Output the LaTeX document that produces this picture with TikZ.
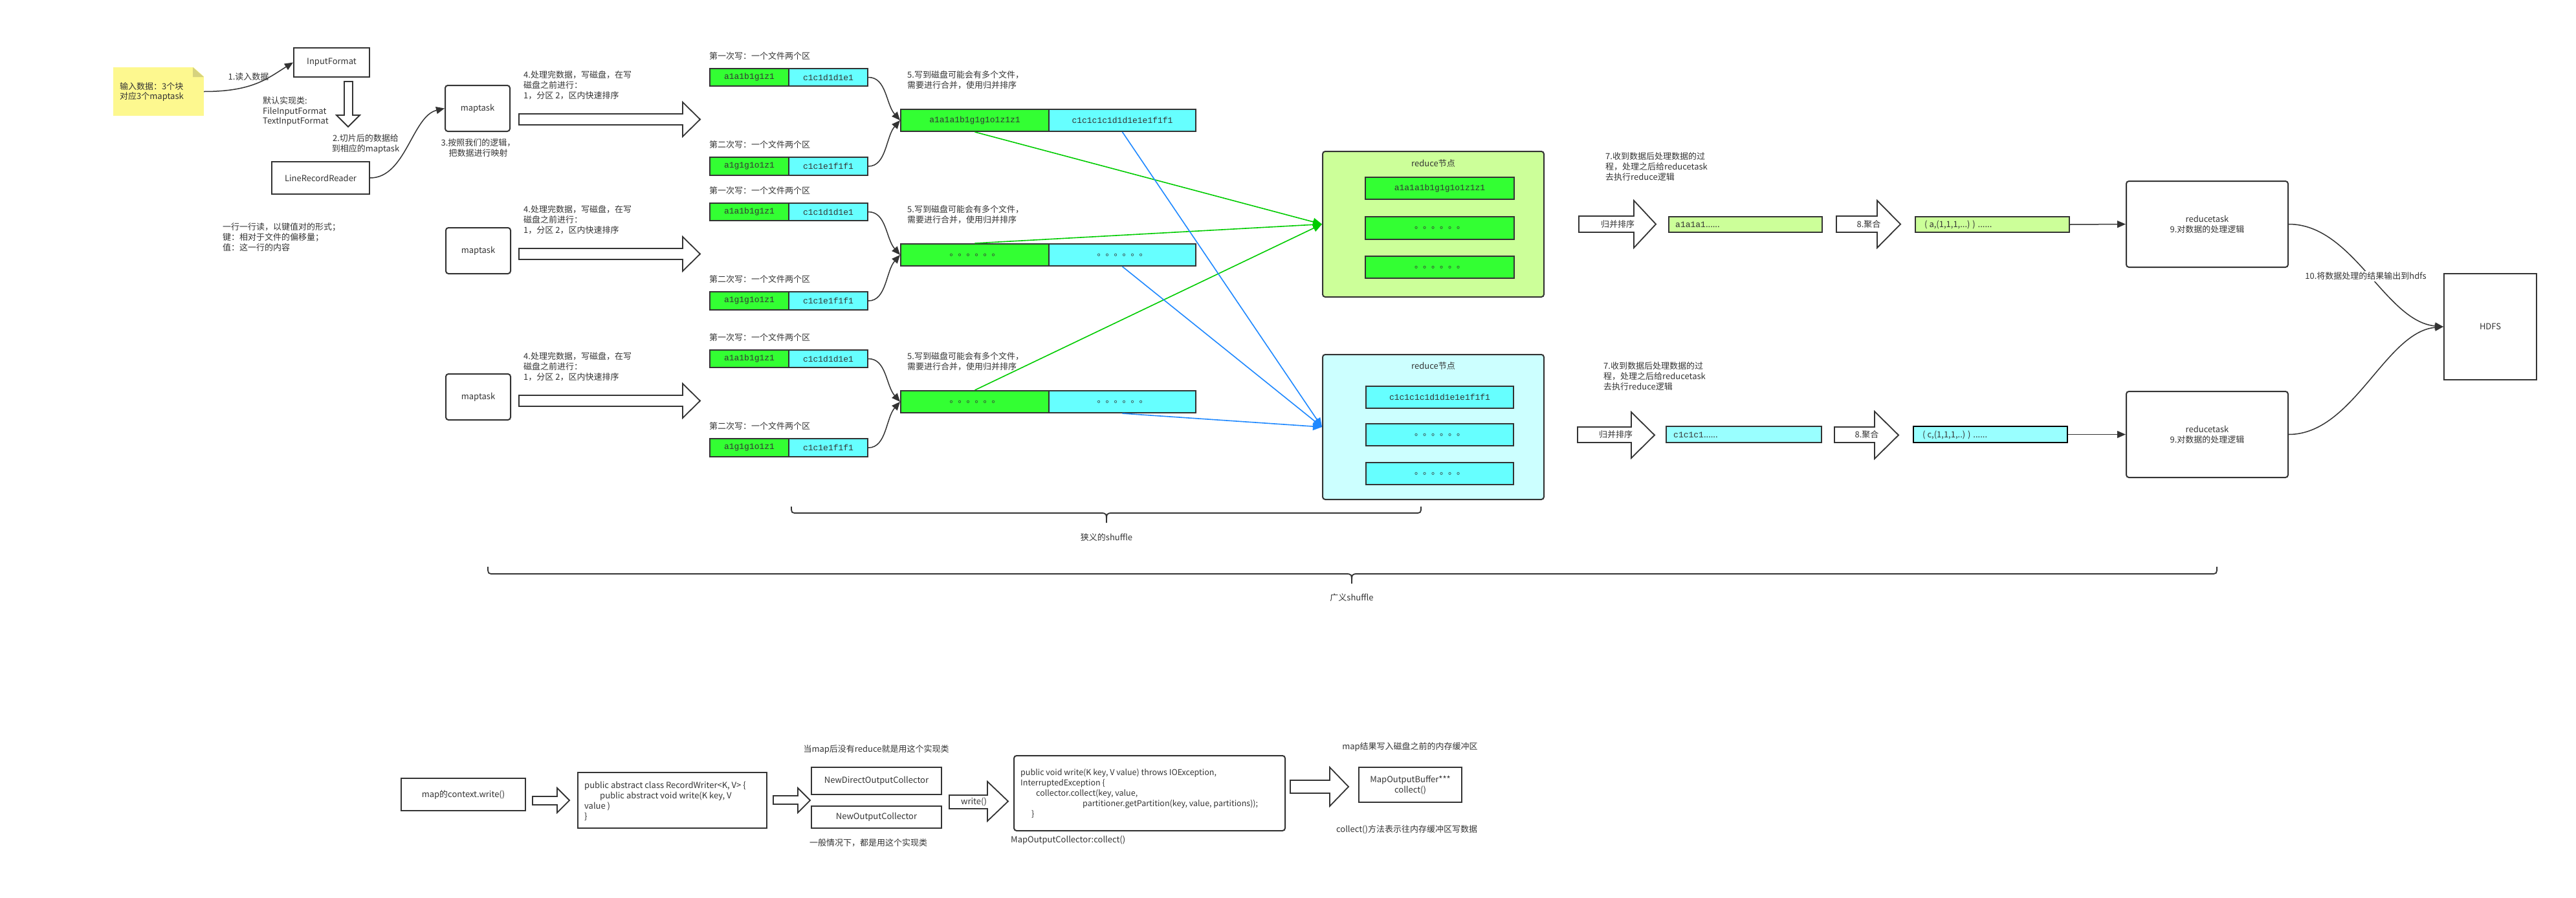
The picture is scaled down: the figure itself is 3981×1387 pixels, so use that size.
\documentclass[tikz,border=0pt]{standalone}
\usepackage{fontspec}
\newfontfamily\cjk{Noto Sans CJK SC}
\newfontfamily\monof{Liberation Mono}
\usetikzlibrary{arrows.meta}
\definecolor{ln}{HTML}{333333}
\definecolor{grn}{HTML}{33FF33}
\definecolor{cyn}{HTML}{66FFFF}
\definecolor{cyn2}{HTML}{99FFFF}
\definecolor{lgrn}{HTML}{CCFF99}
\definecolor{lcyn}{HTML}{CCFFFF}
\definecolor{gline}{HTML}{00CC00}
\definecolor{bline}{HTML}{1E88FF}
\definecolor{notec}{HTML}{FDF88F}
\definecolor{foldc}{HTML}{D6D27E}
\newcommand\mybox[7]{%
 \pgfmathsetmacro\mbw{(#4)-(#2)}%
 \pgfmathsetmacro\mbh{(#5)-(#3)}%
 \pgfmathsetmacro\mbx{((#2)+(#4))/2}%
 \pgfmathsetmacro\mby{((#3)+(#5))/2}%
 \node[#6, minimum width=\mbw pt, minimum height=\mbh pt] (#1) at (\mbx,\mby) {#7};}
\newcommand\harrow[7]{%
 \draw[harr] (#1,#4) -- (#2,#4) -- (#2,#6) -- (#3,{((#6)+(#7))/2}) -- (#2,#7) -- (#2,#5) -- (#1,#5) -- cycle;}
\tikzset{
 every node/.style={font=\cjk\fontsize{13}{16}\selectfont, text=ln},
 box/.style={draw=ln, line width=2pt, fill=white, inner sep=0pt, align=center},
 rbox/.style={box, rounded corners=4pt},
 gbox/.style={box, fill=grn, font=\monof\fontsize{13}{15}\selectfont},
 cbox/.style={box, fill=cyn, font=\monof\fontsize{13}{15}\selectfont},
 txt/.style={inner sep=0pt, align=left, anchor=west},
 ctxt/.style={inner sep=0pt, align=center},
 conn/.style={draw=ln, line width=1.5pt, -{Triangle[length=13pt,width=11pt]}},
 gconn/.style={draw=gline, line width=1.6pt, -{Triangle[length=14pt,width=12pt]}},
 bconn/.style={draw=bline, line width=1.6pt, -{Triangle[length=14pt,width=12pt]}},
 harr/.style={draw=ln, fill=white, line width=1.8pt},
 brc/.style={draw=ln, line width=1.8pt},
}
\begin{document}
\begin{tikzpicture}[x=1pt,y=-1pt]
\useasboundingbox (0,0) rectangle (3981,1387);
\fill[white] (0,0) rectangle (3981,1387);

% ---- input side ----
\mybox{note}{175}{104}{315}{179}{fill=notec, inner sep=0pt}{}
\fill[white] (298,103) -- (316,103) -- (316,119) -- cycle;
\fill[foldc] (298,104) -- (315,119) -- (298,119) -- cycle;
\node[txt, font=\cjk\fontsize{13}{15}\selectfont] (notet) at (185,142) {输入数据：3个块\\对应3个maptask};

\mybox{ifmt}{454}{74}{571}{119}{box}{InputFormat}
\draw[conn] (note.east) .. controls +(75,0) and +(-40,25) .. (ifmt.west);
\node[ctxt] (l1) at (384,119) {1.读入数据};
\draw[harr] (532,126) -- (545,126) -- (545,178) -- (556,178) -- (538,196) -- (520,178) -- (532,178) -- cycle;
\node[txt, font=\cjk\fontsize{13}{15.5}\selectfont] (dft) at (406,172) {默认实现类:\\FileInputFormat\\TextInputFormat};
\mybox{lrr}{420}{250}{571}{300}{box}{LineRecordReader}
\node[ctxt] (l2) at (565,222) {2.切片后的数据给\\到相应的maptask};
\node[txt] (kv) at (344,367) {一行一行读，以键值对的形式；\\键：相对于文件的偏移量；\\值：这一行的内容};

\mybox{mt1}{688}{132}{788}{203}{rbox}{maptask}
\mybox{mt2}{689}{352}{789}{423}{rbox}{maptask}
\mybox{mt3}{689}{578}{789}{649}{rbox}{maptask}
\draw[conn] (lrr.east) .. controls +(55,0) and +(-50,12) .. (mt1.west);
\node[ctxt] (l3) at (739,229) {3.按照我们的逻辑，\\把数据进行映射};

% ---- merged files ----
\mybox{mg1}{1392}{169}{1621}{203}{gbox}{a1a1a1b1g1g1o1z1z1}
\mybox{mc1}{1621}{169}{1848}{203}{cbox}{c1c1c1c1d1d1e1e1f1f1}
\mybox{mg2}{1392}{377}{1621}{411}{gbox}{\cjk 。。。。。。}
\mybox{mc2}{1621}{377}{1848}{411}{cbox}{\cjk 。。。。。。}
\mybox{mg3}{1392}{604}{1621}{638}{gbox}{\cjk 。。。。。。}
\mybox{mc3}{1621}{604}{1848}{638}{cbox}{\cjk 。。。。。。}

\foreach \s/\t in {1/106, 2/314, 3/541}{
  \node[txt] (w\s) at (809,\t+26) {4.处理完数据，写磁盘，在写\\磁盘之前进行：\\1，分区 2，区内快速排序};
  \harrow{802}{1055}{1082}{\t+70}{\t+87}{\t+52}{\t+105}
  \node[txt] (fa\s) at (1096,\t-19) {第一次写：一个文件两个区};
  \mybox{ag\s}{1097}{\t}{1219}{\t+27}{gbox}{a1a1b1g1z1}
  \mybox{ac\s}{1219}{\t}{1341}{\t+27}{cbox}{c1c1d1d1e1}
  \node[txt] (fb\s) at (1096,\t+118) {第二次写：一个文件两个区};
  \mybox{bg\s}{1097}{\t+137}{1219}{\t+165}{gbox}{a1g1g1o1z1}
  \mybox{bc\s}{1219}{\t+137}{1341}{\t+165}{cbox}{c1c1e1f1f1}
  \draw[conn] (ac\s.east) .. controls +(28,0) and +(-22,-25) .. (mg\s.west);
  \draw[conn] (bc\s.east) .. controls +(28,0) and +(-22,25) .. (mg\s.west);
  \node[txt] (m\s) at (1402,\t+17.5) {5.写到磁盘可能会有多个文件，\\需要进行合并，使用归并排序};
}

% ---- reduce nodes ----
\mybox{rn1}{2044}{234}{2386}{459}{rbox, fill=lgrn}{}
\node[ctxt] (rn1t) at (2215,253) {reduce节点};
\mybox{r1a}{2110}{274}{2340}{308}{gbox}{a1a1a1b1g1g1o1z1z1}
\mybox{r1b}{2110}{335}{2340}{370}{gbox}{\cjk 。。。。。。}
\mybox{r1c}{2110}{396}{2340}{430}{gbox}{\cjk 。。。。。。}
\mybox{rn2}{2044}{548}{2386}{772}{rbox, fill=lcyn}{}
\node[ctxt] (rn2t) at (2215,566) {reduce节点};
\mybox{r2a}{2111}{597}{2339}{631}{cbox}{c1c1c1c1d1d1e1e1f1f1}
\mybox{r2b}{2111}{655}{2339}{689}{cbox}{\cjk 。。。。。。}
\mybox{r2c}{2111}{715}{2339}{749}{cbox}{\cjk 。。。。。。}

\draw[gconn] (mg1.south) -- (rn1.west);
\draw[gconn] (mg2.north) -- (rn1.west);
\draw[gconn] (mg3.north) -- (rn1.west);
\draw[bconn] (mc1.south) -- (rn2.west);
\draw[bconn] (mc2.south) -- (rn2.west);
\draw[bconn] (mc3.south) -- (rn2.west);

% ---- reduce rows ----
\node[txt] (t7a) at (2481,258) {7.收到数据后处理数据的过\\程，处理之后给reducetask\\去执行reduce逻辑};
\node[txt] (t7b) at (2478,582) {7.收到数据后处理数据的过\\程，处理之后给reducetask\\去执行reduce逻辑};

\harrow{2440}{2525}{2559}{334}{359}{310}{383}
\node[ctxt] (h1) at (2500,347) {归并排序};
\mybox{s1}{2579}{335}{2816}{359}{box, fill=lgrn}{}
\node[txt] (s1t) at (2589,347) {{\monof a1a1a1}......};
\harrow{2838}{2901}{2937}{334}{359}{310}{383}
\node[ctxt] (h2) at (2888,347) {8.聚合};
\mybox{g1}{2960}{335}{3198}{359}{box, fill=lgrn}{}
\node[txt] (g1t) at (2974,347) {( a,(1,1,1,...) ) ......};
\mybox{rt1}{3286}{280}{3536}{413}{rbox}{reducetask\\9.对数据的处理逻辑}
\draw[conn] (g1.east) -- (rt1.west);

\harrow{2438}{2521}{2557}{660}{684}{637}{708}
\node[ctxt] (h3) at (2497,672) {归并排序};
\mybox{s2}{2575}{659}{2815}{684}{box, fill=cyn2}{}
\node[txt] (s2t) at (2586,672) {{\monof c1c1c1}......};
\harrow{2835}{2897}{2934}{660}{684}{636}{709}
\node[ctxt] (h4) at (2885,672) {8.聚合};
\mybox{g2}{2957}{659}{3195}{684}{box, fill=cyn2, draw=black, line width=2.6pt}{}
\node[txt] (g2t) at (2971,672) {( c,(1,1,1,..) ) ......};
\mybox{rt2}{3286}{605}{3536}{738}{rbox}{reducetask\\9.对数据的处理逻辑}
\draw[conn] (g2.east) -- (rt2.west);

\mybox{hdfs}{3777}{423}{3920}{587}{box}{HDFS}
\draw[conn] (rt1.east) .. controls +(100,0) and +(-90,-8) .. (hdfs.west);
\draw[conn] (rt2.east) .. controls +(100,0) and +(-90,8) .. (hdfs.west);
\node[ctxt, fill=white, inner sep=1.5pt] (l10) at (3656,427) {10.将数据处理的结果输出到hdfs};

% ---- braces ----
\draw[brc] (1223,783) .. controls (1223,793) .. (1233,793) -- (1700,793) .. controls (1710,793) .. (1710,808) .. controls (1710,793) .. (1720,793) -- (2186,793) .. controls (2196,793) .. (2196,783);
\node[ctxt] (nar) at (1710,831) {狭义的shuffle};
\draw[brc] (754,876) .. controls (754,887) .. (764,887) -- (2079,887) .. controls (2089,887) .. (2089,902) .. controls (2089,887) .. (2099,887) -- (3416,887) .. controls (3426,887) .. (3426,876);
\node[ctxt] (wid) at (2089,924) {广义shuffle};

% ---- bottom row ----
\mybox{cw}{620}{1203}{812}{1253}{box}{map的context.write()}
\harrow{823}{861}{880}{1231}{1244}{1218}{1256}
\mybox{rw}{893}{1194}{1185}{1280}{box}{}
\node[txt] (rwt) at (903,1238) {public abstract class RecordWriter<K, V> \{\\\hspace*{24pt}public abstract void write(K key, V\\value )\\\}};
\harrow{1195}{1233}{1252}{1230}{1243}{1218}{1256}
\mybox{ndc}{1254}{1186}{1455}{1228}{box}{NewDirectOutputCollector}
\mybox{noc}{1254}{1246}{1455}{1280}{box}{NewOutputCollector}
\node[ctxt] (ndct) at (1354,1158) {当map后没有reduce就是用这个实现类};
\node[ctxt] (noct) at (1342,1303) {一般情况下，都是用这个实现类};
\harrow{1467}{1526}{1558}{1229}{1250}{1208}{1269}
\node[ctxt] (wr) at (1505,1239) {write()};
\mybox{col}{1567}{1168}{1986}{1284}{rbox}{}
\node[txt, font=\cjk\fontsize{12.5}{16}\selectfont] (colt) at (1577,1226.5) {public void write(K key, V value) throws IOException,\\InterruptedException \{\\\hspace*{24pt}collector.collect(key, value,\\\hspace*{96pt}partitioner.getPartition(key, value, partitions));\\\hspace*{17pt}\}};
\node[txt] (colc) at (1562,1299) {MapOutputCollector:collect()};
\harrow{1994}{2055}{2084}{1206}{1226}{1186}{1246}
\mybox{mob}{2100}{1186}{2259}{1240}{box}{MapOutputBuffer***\\collect()}
\node[ctxt] (mobt) at (2179,1154) {map结果写入磁盘之前的内存缓冲区};
\node[ctxt] (mobc) at (2174,1282) {collect()方法表示往内存缓冲区写数据};
\end{tikzpicture}
\end{document}
